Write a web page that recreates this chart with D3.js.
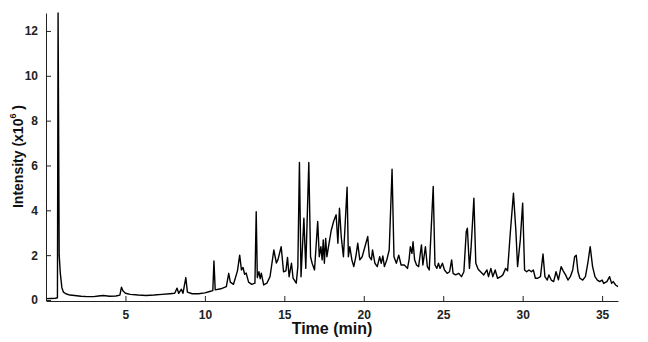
<!DOCTYPE html>
<html>
<head>
<meta charset="utf-8">
<script src="https://cdn.jsdelivr.net/npm/d3@7"></script>
<style>
    body { margin: 0; background: #fff; }
    #chart-container { width: 648px; height: 342px; }
    .tick text { font-family: "Liberation Sans", Arial, sans-serif; font-size: 12px; font-weight: bold; fill: #222; }
    .axis-title { font-family: "Liberation Sans", Arial, sans-serif; font-weight: bold; fill: #111; }
</style>
</head>
<body>
<div id="chart-container"></div>
<script>
//data
var timeMin = [
    0.05, 0.3, 0.6, 0.72, 0.76, 0.79, 0.83, 0.9, 1.0, 1.1, 1.25, 1.5, 1.8, 2.2, 2.6, 3.0, 3.3, 3.6, 4.0, 4.4,
    4.65, 4.75, 4.85, 5.0, 5.3, 5.8, 6.3, 6.8, 7.3, 7.8, 8.1, 8.25, 8.35, 8.52, 8.62, 8.8, 8.9, 9.2, 9.6, 10.0,
    10.3, 10.5, 10.57, 10.65, 11.0, 11.35, 11.5, 11.6, 11.8, 12.05, 12.19, 12.3, 12.4, 12.5, 12.6, 12.75, 12.95, 13.15, 13.23, 13.3,
    13.4, 13.48, 13.55, 13.7, 13.9, 14.1, 14.34, 14.5, 14.6, 14.8, 14.95, 15.1, 15.2, 15.3, 15.45, 15.55, 15.75, 15.85, 15.95, 16.05,
    16.23, 16.35, 16.54, 16.65, 16.75, 16.9, 17.1, 17.2, 17.3, 17.38, 17.45, 17.52, 17.6, 17.68, 17.78, 17.95, 18.1, 18.26, 18.37, 18.47,
    18.58, 18.72, 18.95, 19.03, 19.12, 19.25, 19.37, 19.5, 19.62, 19.75, 19.9, 20.25, 20.35, 20.48, 20.55, 20.7, 20.85, 21.0, 21.1, 21.2,
    21.3, 21.45, 21.6, 21.78, 21.9, 22.05, 22.2, 22.35, 22.55, 22.75, 22.85, 22.93, 23.03, 23.1, 23.2, 23.32, 23.45, 23.63, 23.72, 23.88,
    24.0, 24.12, 24.37, 24.48, 24.6, 24.7, 24.8, 24.95, 25.08, 25.25, 25.4, 25.53, 25.62, 25.78, 25.98, 26.15, 26.3, 26.45, 26.52, 26.65,
    26.75, 26.93, 27.05, 27.2, 27.35, 27.55, 27.75, 27.85, 28.0, 28.12, 28.27, 28.42, 28.62, 28.75, 28.93, 29.05, 29.22, 29.42, 29.57, 29.68,
    29.85, 30.0, 30.12, 30.25, 30.4, 30.55, 30.67, 30.8, 30.95, 31.12, 31.28, 31.4, 31.55, 31.65, 31.8, 31.95, 32.1, 32.25, 32.42, 32.55,
    32.7, 32.85, 33.0, 33.15, 33.27, 33.37, 33.48, 33.6, 33.78, 33.95, 34.1, 34.25, 34.4, 34.55, 34.7, 34.85, 35.0, 35.1, 35.3, 35.47,
    35.6, 35.7, 35.85, 36.0
];

var intensity = [
    0.06, 0.07, 0.08, 0.1, 12.8, 8.3, 2.0, 1.2, 0.55, 0.35, 0.28, 0.22, 0.2, 0.17, 0.15, 0.15, 0.18, 0.2, 0.17, 0.18,
    0.22, 0.57, 0.4, 0.3, 0.25, 0.22, 0.2, 0.22, 0.25, 0.28, 0.3, 0.53, 0.3, 0.48, 0.3, 1.0, 0.35, 0.28, 0.28, 0.32,
    0.38, 0.42, 1.74, 0.45, 0.5, 0.6, 1.19, 0.8, 0.7, 1.3, 2.0, 1.34, 1.45, 1.15, 1.2, 0.8, 0.7, 0.75, 3.94, 1.0,
    1.26, 0.95, 1.2, 0.67, 0.75, 1.04, 2.23, 1.65, 1.8, 2.38, 1.26, 1.3, 1.9, 1.04, 1.64, 0.98, 0.75, 1.49, 6.13, 1.04,
    3.65, 1.41, 6.13, 1.93, 1.64, 1.34, 3.5, 1.93, 2.38, 1.79, 2.68, 1.64, 2.75, 1.93, 2.38, 3.1, 3.5, 3.8, 2.53, 4.09,
    2.83, 1.93, 5.03, 1.93, 2.38, 1.79, 1.49, 1.93, 2.53, 1.79, 1.93, 2.83, 1.93, 1.79, 2.23, 1.64, 1.49, 1.93, 1.64, 1.96,
    1.49, 1.79, 2.23, 5.83, 1.93, 1.64, 2.0, 1.56, 1.56, 1.41, 1.79, 2.38, 2.08, 2.6, 1.79, 1.56, 1.49, 2.46, 1.56, 2.38,
    1.49, 1.34, 5.06, 1.56, 1.41, 1.64, 1.41, 1.64, 1.34, 1.19, 1.26, 1.79, 1.19, 1.12, 1.19, 1.04, 1.26, 3.05, 3.2, 1.41,
    2.3, 4.54, 1.64, 1.37, 1.26, 1.12, 1.34, 1.04, 1.41, 1.04, 1.34, 0.97, 1.04, 1.12, 1.41, 1.3, 2.98, 4.76, 3.12, 1.49,
    2.68, 4.32, 1.34, 1.26, 1.34, 1.26, 1.34, 0.97, 0.97, 1.04, 2.05, 1.04, 0.89, 1.12, 0.89, 0.82, 1.26, 0.9, 1.49, 1.3,
    1.12, 0.89, 1.04, 1.34, 1.93, 2.0, 1.26, 0.97, 0.89, 1.04, 1.64, 2.38, 1.49, 1.04, 0.89, 0.82, 0.89, 0.74, 0.82, 1.04,
    0.74, 0.82, 0.67, 0.6
];

//axis ticks
var xTicks = [5, 10, 15, 20, 25, 30, 35],
    yTicks = [0, 2, 4, 6, 8, 10, 12];

//sizes
var outerW = 648,
    outerH = 342,
    margin = { top: 13, right: 30, bottom: 42, left: 46 },
    w = outerW - margin.left - margin.right,
    h = outerH - margin.top - margin.bottom;

var chromData = timeMin.map(function(t, i) {
    return { time: t, value: intensity[i] };
});

//scales
var xScale = d3.scaleLinear()
    .domain([0, 36])
    .range([0, w]);

var yScale = d3.scaleLinear()
    .domain([0, 12.8])
    .range([h, 0]);

var svg = d3.select('#chart-container').append('svg')
    .attr('width', outerW)
    .attr('height', outerH);

var g = svg.append('g')
    .attr('transform', 'translate(' + margin.left + ', ' + margin.top + ')');

//axes, ticks point inward like the original
var xAxis = d3.axisBottom(xScale)
    .tickValues(xTicks)
    .tickSize(-5)
    .tickPadding(9)
    .tickSizeOuter(0);

var yAxis = d3.axisLeft(yScale)
    .tickValues(yTicks)
    .tickSize(-5)
    .tickPadding(8)
    .tickSizeOuter(0);

var xAxisG = g.append('g')
    .attr('class', 'x-axis')
    .attr('transform', 'translate(0, ' + (h + 1) + ')')
    .call(xAxis);

var yAxisG = g.append('g')
    .attr('class', 'y-axis')
    .call(yAxis);

g.selectAll('.domain, .tick line')
    .attr('stroke', '#222');

//trace
var line = d3.line()
    .x(function(d) { return xScale(d.time); })
    .y(function(d) { return yScale(d.value); });

g.append('path')
    .datum(chromData)
    .attr('fill', 'none')
    .attr('stroke', '#000')
    .attr('stroke-width', 1.4)
    .attr('stroke-linejoin', 'round')
    .attr('d', line);

//axis titles
g.append('text')
    .attr('class', 'axis-title')
    .attr('x', w / 2)
    .attr('y', h + 34)
    .attr('text-anchor', 'middle')
    .style('font-size', '16px')
    .text('Time (min)');

var yTitle = g.append('text')
    .attr('class', 'axis-title')
    .attr('transform', 'translate(' + (-23) + ', ' + (h / 2) + ') rotate(-90)')
    .attr('text-anchor', 'middle')
    .style('font-size', '14px');

yTitle.append('tspan').text('Intensity (x10');
yTitle.append('tspan')
    .attr('dy', -7)
    .style('font-size', '9px')
    .text('6');
yTitle.append('tspan')
    .attr('dy', 7)
    .text('  )');
</script>
</body>
</html>
